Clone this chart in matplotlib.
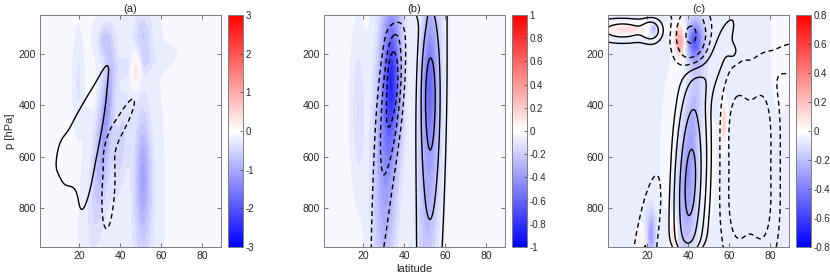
import numpy as np
import matplotlib
matplotlib.use('Agg')
import matplotlib.pyplot as plt
from matplotlib.colors import Normalize
from matplotlib.cm import ScalarMappable

plt.rcParams['font.family'] = ['Liberation Sans', 'DejaVu Sans']

# grid of the model output
LAT = np.arange(1, 89.01, 0.5)
PRES = np.arange(50, 950.1, 5)

# each anomaly feature:
# (lat centre, p centre, lat spread, p spread, amplitude, tilt dlat/dp)
A_BASE = -0.14
A_FILL = [
    (31.5, 560, 3.4, 230, -0.75, -0.011),
    (33.5, 400, 1.8, 130, -0.45, -0.011),
    (32.5, 150, 2.5, 45, -0.5, 0.0),
    (51.0, 660, 2.5, 150, -0.55, 0.0),
    (51.0, 760, 4.0, 250, -0.45, 0.0),
    (51.0, 130, 3.5, 70, -0.45, 0.0),
    (48.0, 240, 7.0, 35, -0.25, -0.1),
    (47.5, 255, 1.7, 45, 0.75, 0.0),
    (19.5, 310, 1.3, 90, -0.25, 0.0),
    (26.5, 330, 1.0, 50, 0.3, 0.0),
    (40.5, 560, 2.5, 150, -0.35, -0.011),
]
A_LINE = [
    (27.5, 535, 2.3, 185, 1.0, -0.0216),
    (21.0, 450, 2.3, 115, 0.9, -0.06),
    (23.0, 510, 3.0, 105, 0.5, -0.04),
    (12.5, 615, 2.5, 65, 0.9, 0.0),
    (19.0, 640, 3.5, 110, 0.6, 0.0),
    (34.2, 720, 2.6, 135, -1.0, -0.006),
    (40.5, 470, 2.5, 80, -1.0, -0.06),
]
A_LEVELS = [-0.5, 0.5]

B_BASE = -0.03
B_FILL = [
    (17.5, 420, 2.5, 200, -0.12, 0.0),
    (32.0, 450, 4.5, 420, -0.45, -0.004),
    (34.0, 310, 3.0, 150, -0.42, 0.0),
    (52.5, 500, 4.0, 450, -0.33, -0.003),
    (52.0, 300, 2.5, 160, -0.28, 0.0),
]
B_LINE = [
    (30.5, 600, 4.5, 500, -0.4, -0.01),
    (34.5, 340, 4.0, 190, -0.5, -0.01),
    (34.3, 280, 1.6, 65, -0.3, 0.0),
    (33.0, 20, 8.0, 40, 0.5, 0.0),
    (53.5, 500, 7.0, 3000, 0.35, -0.003),
    (52.5, 330, 3.5, 200, 0.45, 0.0),
    (52.5, 650, 3.5, 220, 0.2, 0.0),
]
B_LEVELS = [-0.75, -0.5, -0.25, 0.25, 0.5, 0.75]

C_BASE = -0.08
C_FILL = [
    (10.0, 105, 10.0, 18, 0.18, 0.0),
    (23.0, 105, 1.5, 15, -0.25, 0.0),
    (36.0, 150, 1.8, 40, 0.35, 0.0),
    (43.0, 150, 3.0, 55, -0.45, 0.0),
    (40.0, 740, 3.8, 190, -0.27, -0.004),
    (42.0, 450, 3.5, 200, -0.18, -0.012),
    (40.0, 600, 10.0, 350, 0.1, 0.0),
    (57.5, 470, 1.0, 60, 0.2, 0.0),
    (33.0, 900, 1.0, 50, 0.18, 0.0),
    (16.5, 920, 1.2, 40, 0.15, 0.0),
    (22.0, 900, 1.5, 60, -0.25, 0.0),
    (85.0, 200, 4.0, 200, 0.08, 0.0),
]
C_LINE = [
    (41.0, 700, 4.3, 225, 1.0, -0.005),
    (40.0, 1000, 6.0, 40, -0.3, 0.0),
    (53.0, 230, 4.0, 130, 0.14, -0.05),
    (62.0, 195, 2.0, 25, 0.1, 0.0),
    (8.0, 110, 9.0, 28, 0.3, 0.0),
    (22.0, 110, 3.0, 28, 0.3, 0.0),
    (41.5, 130, 5.0, 70, -0.6, 0.0),
    (15.0, 30, 12.0, 15, -0.15, 0.0),
    (64.0, 480, 5.0, 150, -0.25, 0.0),
    (76.0, 480, 5.0, 150, -0.25, 0.0),
    (64.0, 800, 5.0, 150, -0.25, 0.0),
    (76.0, 800, 5.0, 150, -0.25, 0.0),
    (92.0, 220, 8.0, 50, -0.12, 0.0),
    (19.0, 950, 3.5, 180, -0.2, -0.02),
]
C_LEVELS = [-0.5, -0.2, -0.06, 0.06, 0.2, 0.5, 0.85]

TITLES = ['(a)', '(b)', '(c)']
VMAX = [3, 1, 0.8]
CBAR_TICKS = [[-3, -2, -1, 0, 1, 2, 3],
              [-1, -0.8, -0.6, -0.4, -0.2, 0, 0.2, 0.4, 0.6, 0.8, 1],
              [-0.8, -0.6, -0.4, -0.2, 0, 0.2, 0.4, 0.6, 0.8]]


def build(blobs, base):
    la, pp = np.meshgrid(LAT, PRES)
    z = np.full(la.shape, float(base))
    for lat0, p0, slat, sp, amp, tilt in blobs:
        c = lat0 + tilt * (pp - p0)
        z += amp * np.exp(-0.5 * ((la - c) / slat) ** 2
                          - 0.5 * ((pp - p0) / sp) ** 2)
    return z


fig = plt.figure(figsize=(8.3, 2.76), dpi=100)
ax_pos = [0.0486, 0.3907, 0.7329]
cb_pos = [0.2751, 0.6172, 0.9590]

panels = [(A_FILL, A_BASE, A_LINE, A_LEVELS),
          (B_FILL, B_BASE, B_LINE, B_LEVELS),
          (C_FILL, C_BASE, C_LINE, C_LEVELS)]

for i, (fill, base, line, levels) in enumerate(panels):
    ax = fig.add_axes([ax_pos[i], 0.1051, 0.2175, 0.8406])
    vmax = VMAX[i]
    zf = build(fill, base)
    zl = build(line, 0.0)
    ax.contourf(LAT, PRES, zf, levels=np.linspace(-vmax, vmax, 41),
                cmap='bwr', vmin=-vmax, vmax=vmax, extend='both')
    neg = [l for l in levels if l < 0]
    pos = [l for l in levels if l > 0]
    ax.contour(LAT, PRES, zl, levels=neg, colors='k', linewidths=1.0,
               linestyles=[(0, (3.5, 2.5))])
    ax.contour(LAT, PRES, zl, levels=pos, colors='k', linewidths=1.0,
               linestyles='solid')
    ax.set_xlim(1, 89)
    ax.set_ylim(950, 50)
    ax.set_xticks([20, 40, 60, 80])
    ax.set_yticks([200, 400, 600, 800])
    ax.tick_params(direction='in', top=True, right=True, length=3,
                   width=0.5, color='#404040', labelsize=7.5,
                   labelcolor='#262626', pad=3)
    for s in ax.spines.values():
        s.set_color('#7f7f7f')
        s.set_linewidth(0.7)
    ax.set_title(TITLES[i], fontsize=8, color='#262626', pad=2)
    if i == 0:
        ax.set_ylabel('p [hPa]', fontsize=8, color='#262626', labelpad=3)
    if i == 1:
        ax.set_xlabel('latitude', fontsize=8, color='#262626', labelpad=2)

    cax = fig.add_axes([cb_pos[i], 0.1051, 0.0176, 0.8406])
    sm = ScalarMappable(norm=Normalize(-vmax, vmax), cmap='bwr')
    cb = fig.colorbar(sm, cax=cax, ticks=CBAR_TICKS[i])
    cb.ax.set_yticklabels([str(t) for t in CBAR_TICKS[i]])
    cb.ax.tick_params(direction='in', length=2, width=0.5, labelsize=7,
                      labelcolor='#262626', color='#404040', pad=2)
    cb.outline.set_edgecolor('#7f7f7f')
    cb.outline.set_linewidth(0.7)

fig.savefig('out.png', dpi=100)
